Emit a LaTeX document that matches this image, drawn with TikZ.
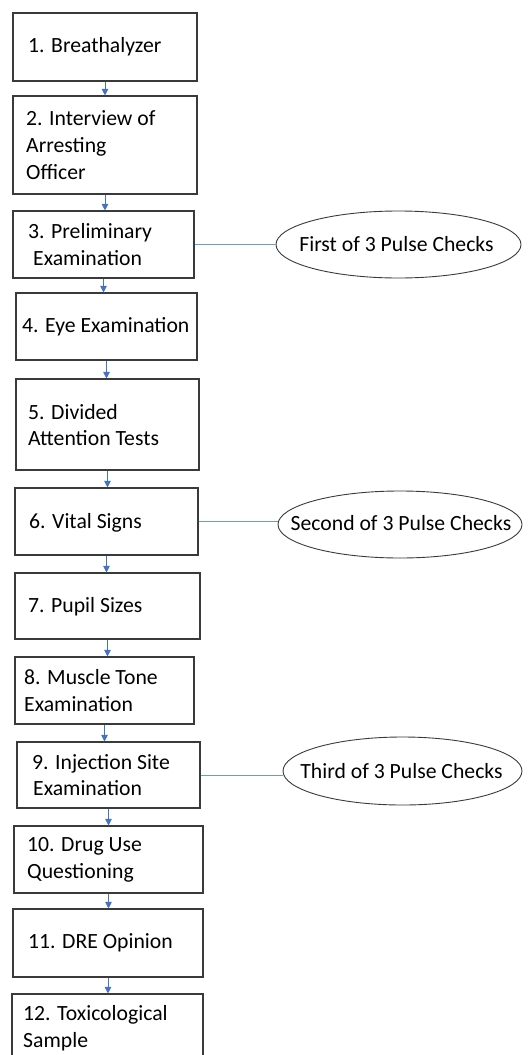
\documentclass[tikz,border=0pt]{standalone}
\usepackage{fontspec}
\setmainfont{Carlito}
\usetikzlibrary{shapes.geometric,arrows.meta}
\definecolor{arrowblue}{HTML}{4472C4}
\definecolor{linkblue}{HTML}{6F9BC8}
\definecolor{edgegray}{HTML}{3A3A3A}
\tikzset{
  boxst/.style={draw=edgegray, line width=1.1pt, rectangle, inner sep=0pt},
  txt/.style={anchor=west, inner sep=0pt, align=left, font=\fontsize{21.7}{26.7}\selectfont},
  ovalst/.style={draw=edgegray, line width=0.9pt, ellipse, inner sep=0pt},
  ovaltxt/.style={inner sep=0pt, font=\fontsize{21.7}{26.7}\selectfont},
  flow/.style={draw=arrowblue, line width=0.9pt, -{Triangle[length=6.5pt,width=6.5pt]}},
  link/.style={draw=linkblue, line width=0.9pt}
}
\begin{document}
\begin{tikzpicture}[x=1pt,y=1pt]
\clip (0,0) rectangle (530,-1055);
\useasboundingbox (0,0) rectangle (530,-1055);
% boxes
\node[boxst, minimum width=184pt, minimum height=68pt] (b1) at (105,-47) {};
\node[boxst, minimum width=184pt, minimum height=98pt] (b2) at (105,-145) {};
\node[boxst, minimum width=181pt, minimum height=67pt] (b3) at (103.5,-244.5) {};
\node[boxst, minimum width=181pt, minimum height=67pt] (b4) at (106.5,-326.5) {};
\node[boxst, minimum width=183pt, minimum height=91pt] (b5) at (107.5,-424.5) {};
\node[boxst, minimum width=183pt, minimum height=67pt] (b6) at (106.5,-521.5) {};
\node[boxst, minimum width=185pt, minimum height=66pt] (b7) at (107.5,-606) {};
\node[boxst, minimum width=179pt, minimum height=67pt] (b8) at (104.5,-690.5) {};
\node[boxst, minimum width=183pt, minimum height=66pt] (b9) at (108.5,-775) {};
\node[boxst, minimum width=189pt, minimum height=67pt] (b10) at (108.5,-859.5) {};
\node[boxst, minimum width=190pt, minimum height=68pt] (b11) at (108,-943) {};
\node[boxst, minimum width=191pt, minimum height=67pt] (b12) at (107.5,-1027.5) {};
% texts
\node[txt] (t1) at (28,-47) {1. Breathalyzer};
\node[txt] (t2) at (26,-145) {2. Interview of\\Arresting\\Officer};
\node[txt] (t3) at (28,-244.5) {3. Preliminary\\\hspace*{5pt}Examination};
\node[txt] (t4) at (22,-326.5) {4. Eye Examination};
\node[txt] (t5) at (28,-425) {5. Divided\\Attention Tests};
\node[txt] (t6) at (29,-523) {6. Vital Signs};
\node[txt] (t7) at (28,-607) {7. Pupil Sizes};
\node[txt] (t8) at (24,-690.5) {8. Muscle Tone\\Examination};
\node[txt] (t9) at (32,-775) {9. Injection Site\\\hspace*{1pt}Examination};
\node[txt] (t10) at (27,-859.5) {10. Drug Use\\Questioning};
\node[txt] (t11) at (28,-943) {11. DRE Opinion};
\node[txt] (t12) at (23,-1028) {12. Toxicological\\Sample};
% ellipses
\node[ovalst, minimum width=245pt, minimum height=67pt] (e1) at (398.5,-244.5) {};
\node[ovalst, minimum width=244pt, minimum height=67pt] (e2) at (400,-524.5) {};
\node[ovalst, minimum width=239pt, minimum height=68pt] (e3) at (402.5,-771) {};
\node[ovaltxt] (l1) at ([xshift=-2pt]e1.center) {First of 3 Pulse Checks};
\node[ovaltxt] (l2) at ([xshift=1pt,yshift=1pt]e2.center) {Second of 3 Pulse Checks};
\node[ovaltxt] (l3) at ([xshift=-1pt]e3.center) {Third of 3 Pulse Checks};
% flow arrows
\foreach \a/\b in {b1/b2,b2/b3,b3/b4,b4/b5,b5/b6,b6/b7,b7/b8,b8/b9,b9/b10,b10/b11,b11/b12}
  \draw[flow] (\a.south) -- (\a.south |- \b.north);
% links
\draw[link] (b3.east) -- (b3.east -| e1.west);
\draw[link] (b6.east) -- (b6.east -| e2.west);
\draw[link] (b9.east) -- (b9.east -| e3.west);
\end{tikzpicture}
\end{document}
